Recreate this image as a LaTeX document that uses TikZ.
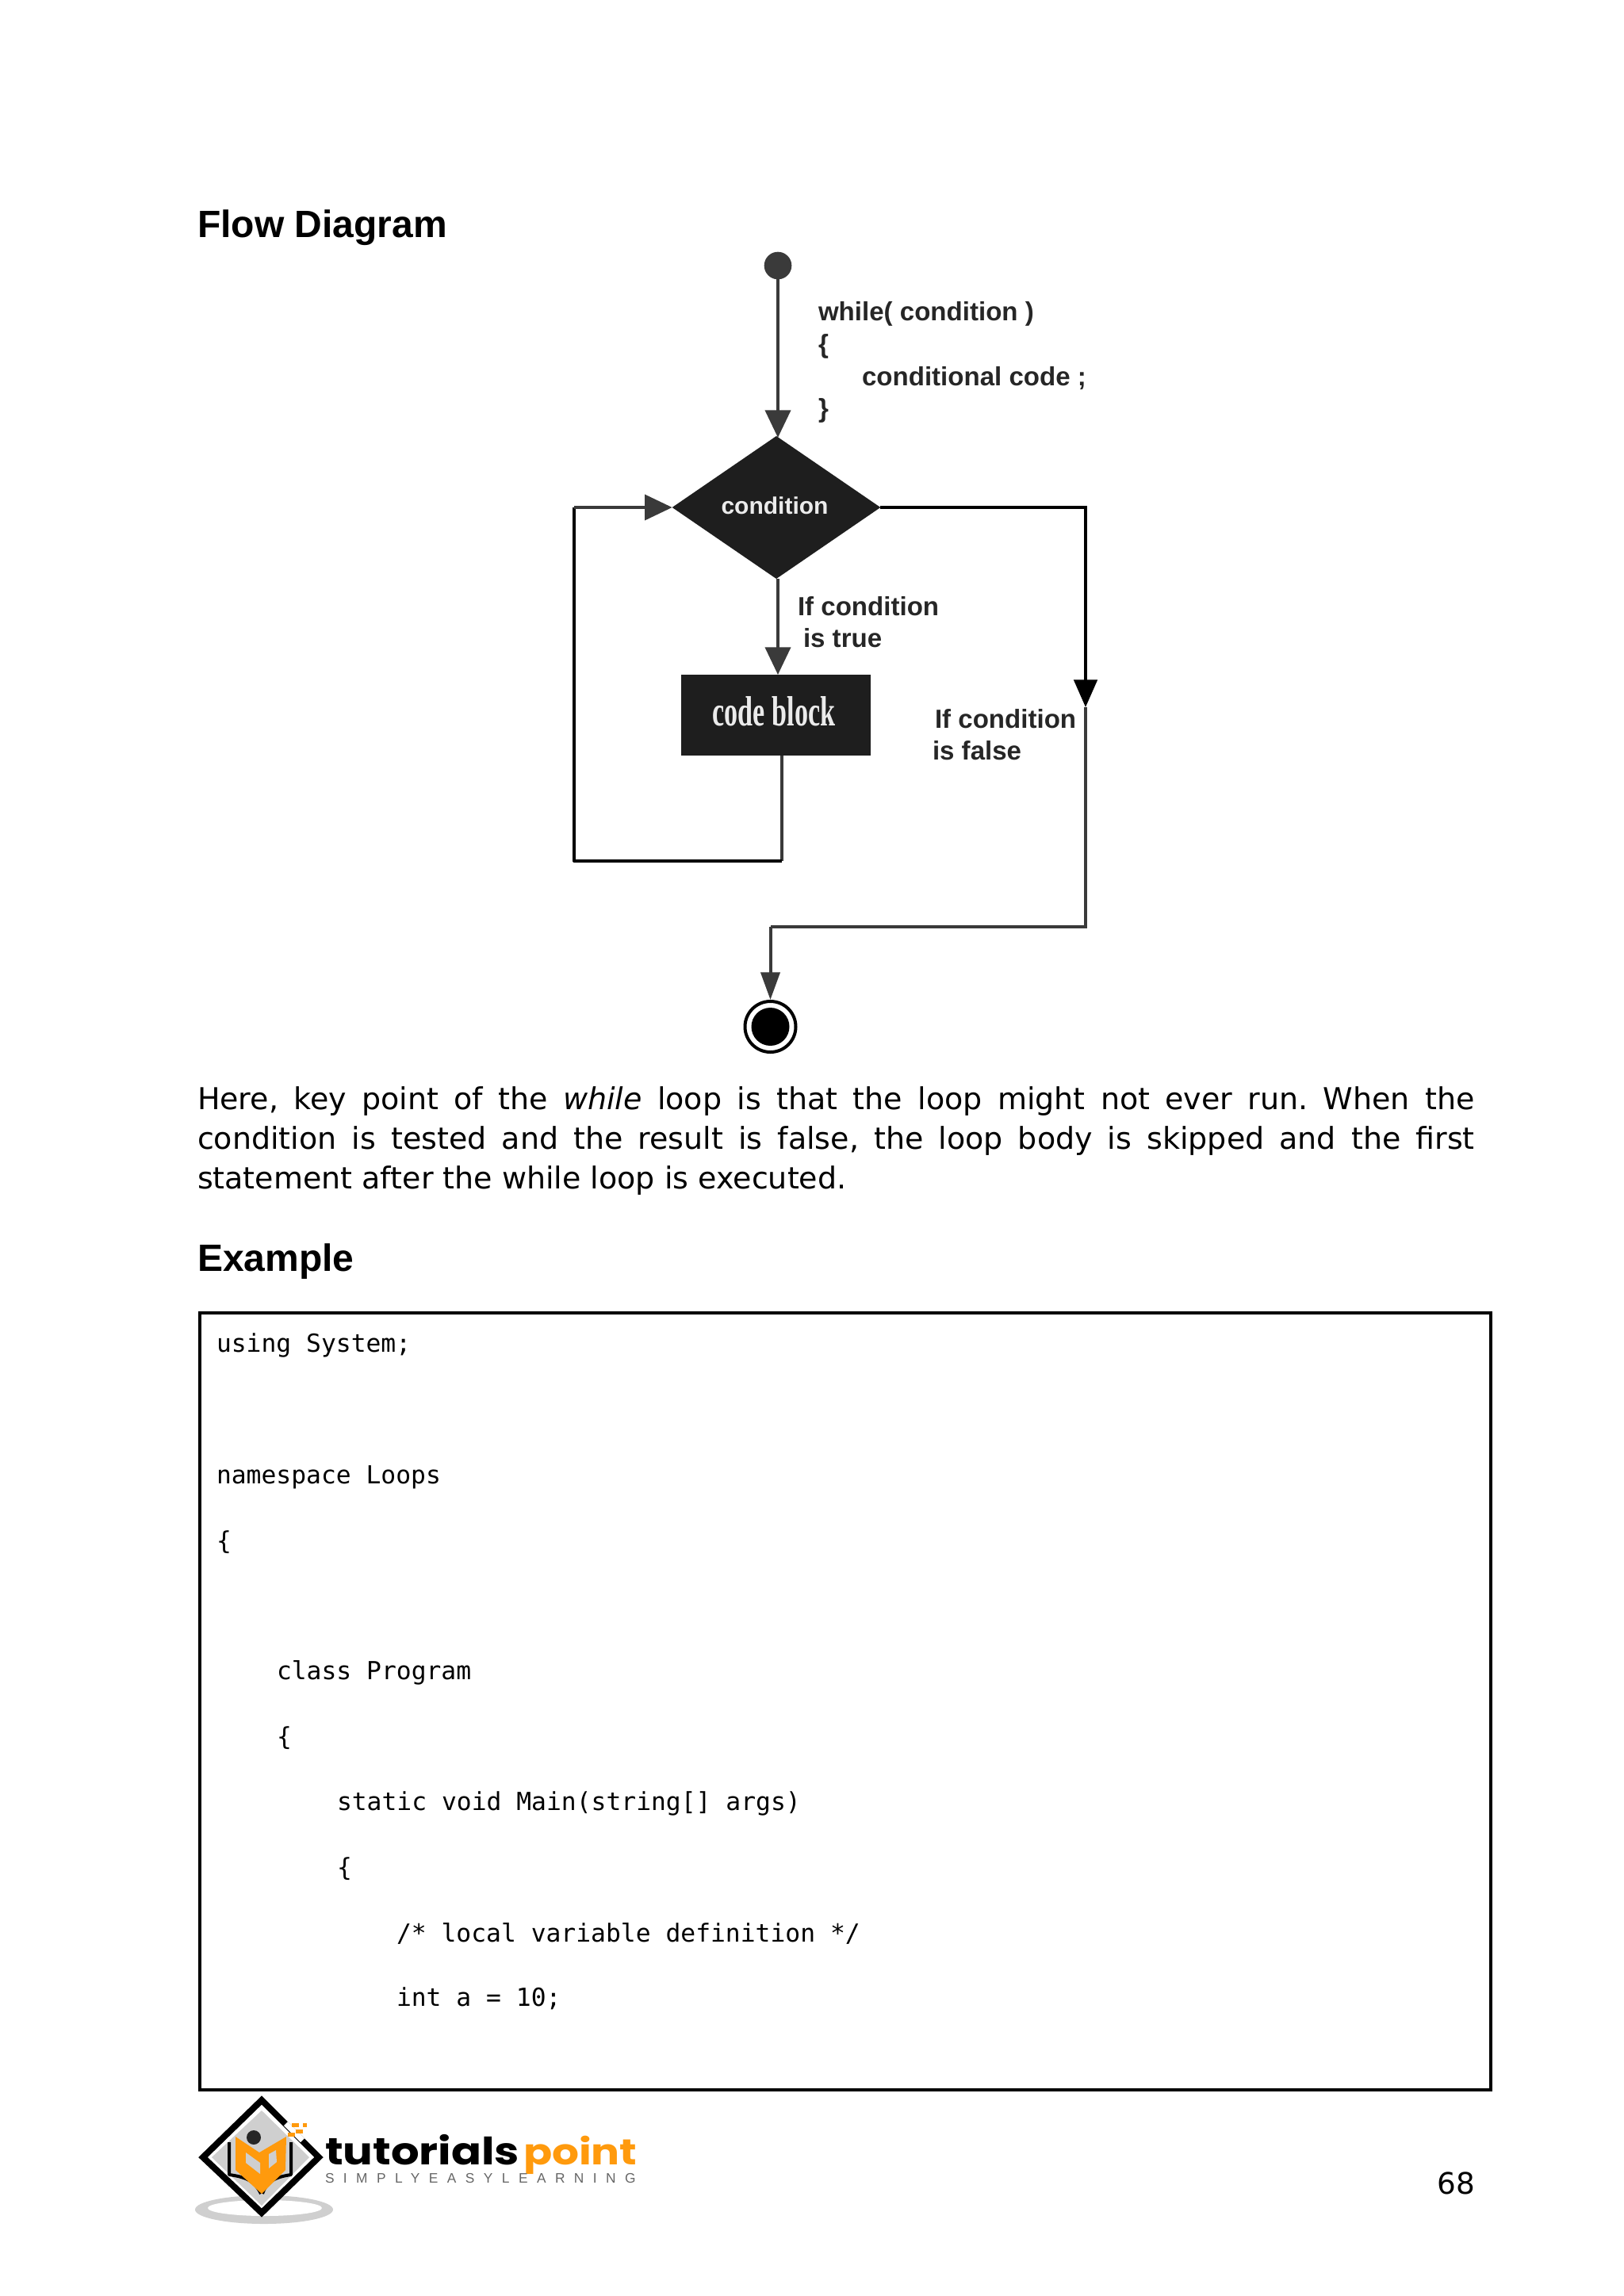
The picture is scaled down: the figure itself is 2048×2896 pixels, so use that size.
\documentclass[tikz,border=0pt]{standalone}
\usepackage{fontspec}
\setmainfont{Liberation Sans}
\newfontfamily\bodyfont{DejaVu Sans}
\newfontfamily\codefont{DejaVu Sans Mono}
\newfontfamily\logofont{Poppins}
\newfontfamily\blockfont{Liberation Serif}
\usetikzlibrary{arrows.meta,shapes.geometric}

\definecolor{darkline}{HTML}{3A3A3A}
\definecolor{darkfill}{HTML}{1E1E1E}
\definecolor{logoorange}{HTML}{FF9A0D}

\tikzset{every picture/.style={line width=3pt},
  flowline/.style={draw=darkline,line width=3pt},
  flowarrow/.style={flowline,-{Triangle[length=26pt,width=24pt]}},
  flowtext/.style={anchor=base west,inner sep=0pt,text=black!85,font=\fontsize{24.8}{30}\selectfont\bfseries},
  heading/.style={anchor=base west,inner sep=0pt,font=\fontsize{36}{42}\selectfont\bfseries},
  codeline/.style={anchor=base west,inner sep=0pt,font=\fontsize{23.5}{28}\codefont}}

\begin{document}
\begin{tikzpicture}[x=0.75pt,y=0.75pt,yscale=-1,xscale=1]
\useasboundingbox (0,0) rectangle (2048,2896);

% Text Node
\node (flowhead) [heading] at (247,299) {Flow Diagram};

%Shape: Start circle
\node (start) [circle,fill=darkline,minimum size=26pt,inner sep=0pt] at (981,335) {};
%Shape: Diamond
\node (cond) [diamond,fill=darkfill,minimum width=197pt,minimum height=135pt,inner sep=0pt,outer sep=0pt] at (979,640) {};
%Shape: Rectangle
\node (block) [rectangle,fill=darkfill,minimum width=179.5pt,minimum height=76.5pt,inner sep=0pt] at (978.5,902) {};
%Shape: End circle
\node (stop) [circle,draw=black,line width=3pt,fill=white,minimum size=48pt,inner sep=0pt] at (971.5,1295) {};
\node (stopdot) [circle,fill=black,minimum size=36pt,inner sep=0pt] at (stop) {};

% Corners of the connectors
\coordinate (loopa) at (986,1086);
\coordinate (loopb) at (724,1086);
\coordinate (loopc) at (724,640);
\coordinate (falsetip) at (1369,892);
\coordinate (falsea) at (1369,1169);
\coordinate (falseb) at (971.5,1169);
\coordinate (blockout) at (986,953);
\coordinate (condtop) at (981,552);
\coordinate (condbase) at (981,730);
\coordinate (blocktop) at (981,851);

%Straight Lines
\draw [flowarrow] (start.center) -- (condtop);
\draw [flowarrow] (condbase) -- (blocktop);
\draw [flowline] (blockout) -- (loopa);
\draw [flowline,draw=black,line join=round] (loopa) -- (loopb) -- (loopc);
\draw [flowarrow] (loopc) -- (cond.west);
\draw [flowline,draw=black,-{Triangle[length=26pt,width=22pt]}] (cond.east) -| (falsetip);
\draw [flowline] (falsetip) -- (falsea) -- (falseb);
\draw [flowarrow,-{Triangle[length=26pt,width=18pt]}] (falseb) -- (stop.north);

% Text Node
\node (condtext) [text=white!92!black,inner sep=0pt,font=\fontsize{22.5}{26}\selectfont\bfseries] at (977,638) {condition};
\node (blocktext) [text=white!92!black,inner sep=0pt,font=\fontsize{40}{44}\blockfont\bfseries] at (976,897) {\scalebox{.64}[1]{code block}};
\node (while) [flowtext] at (1030,404) {while( condition )};
\node (open) [flowtext] at (1030,445) {\{};
\node (body) [flowtext] at (1085,486) {conditional code ;};
\node (close) [flowtext] at (1030,526) {\}};
\node (iftrue) [flowtext] at (1004,776) {If condition};
\node (istrue) [flowtext] at (1011,816) {is true};
\node (iffalse) [flowtext] at (1177,918) {If condition};
\node (isfalse) [flowtext] at (1174,958) {is false};

% Text Node
\node (para) [anchor=north west,inner sep=0pt,text width=1208pt,align=justify,font=\fontsize{28.5}{37.5}\bodyfont\frenchspacing] at (247,1369) {Here, key point of the {\itshape while} loop is that the loop might not ever run. When the\linebreak condition is tested and the result is false, the loop body is skipped and the first\linebreak statement after the while loop is executed.};
\node (examplehead) [heading] at (247,1603) {Example};

%Shape: Code box
\node (codebox) [draw=black,line width=3.2pt,anchor=north west,minimum width=1221pt,minimum height=735pt,inner sep=0pt,outer sep=0pt] at (252,1656) {};

% Text Node
\node (c1) [codeline] at (271,1705) {using System;};
\node (c2) [codeline] at (271,1871) {namespace Loops};
\node (c3) [codeline] at (271,1954) {\{};
\node (c4) [codeline] at (347,2118) {class Program};
\node (c5) [codeline] at (347,2201) {\{};
\node (c6) [codeline] at (423,2283) {static void Main(string[] args)};
\node (c7) [codeline] at (423,2366) {\{};
\node (c8) [codeline] at (498,2449) {/* local variable definition */};
\node (c9) [codeline] at (498,2530) {int a = 10;};

% Text Node
\node (pagenum) [anchor=base,inner sep=0pt,font=\fontsize{28}{32}\bodyfont] at (1836,2767) {68};

%Shape: Logo shadow
\fill [black!19] (333,2787) ellipse [x radius=87,y radius=18];
\fill [white] (334,2785) ellipse [x radius=72,y radius=10];
%Shape: Logo diamond
\draw [line width=6pt,fill=white,miter limit=10] (330,2649) -- (402,2721) -- (330,2791) -- (256,2721) -- cycle;
\fill [black!19] (330,2662) -- (390,2721) -- (330,2782) -- (267,2721) -- cycle;
\fill [white] (363,2676) -- (384,2697) -- (379,2702) -- (358,2681) -- cycle;
%Shape: Logo book
\draw [line width=3pt,line join=round] (289,2702) -- (289,2743) .. controls (312,2746) and (322,2752) .. (329,2767);
\draw [line width=3pt,line join=round] (367,2702) -- (367,2743) .. controls (346,2746) and (336,2752) .. (331,2767);
\fill [logoorange] (297,2695) -- (327,2715) -- (361,2695) -- (360,2737) -- (330,2767) -- (297,2737) -- cycle;
\fill [black!19] (310,2715) -- (328,2728) -- (328,2742) -- (310,2728) -- cycle;
\fill [black!19] (348,2712) -- (339,2717) -- (339,2735) -- (349,2727) -- cycle;
\fill [black!85] (320,2696) circle [radius=9];
\foreach \sqx/\sqy/\sqw in {368/2683/9,382/2683/5,363/2695/9,373/2691/9}
  \fill [logoorange] (\sqx,\sqy) rectangle ++(\sqw,-5);

% Text Node
\node (logoa) [anchor=base west,inner sep=0pt,font=\fontsize{42}{44}\logofont\bfseries] at (408,2730) {\scalebox{1}[.85]{tutorials}};
\node (logob) [anchor=base west,inner sep=0pt,text=logoorange,font=\fontsize{40}{44}\logofont\bfseries] at (658,2730) {\scalebox{1}[.85]{point}};
\node (logoc) [anchor=base west,inner sep=0pt,text=black!60,font=\fontsize{13}{14}\selectfont] at (408,2753) {\addfontfeature{LetterSpace=66}SIMPLYEASYLEARNING};

\end{tikzpicture}
\end{document}
